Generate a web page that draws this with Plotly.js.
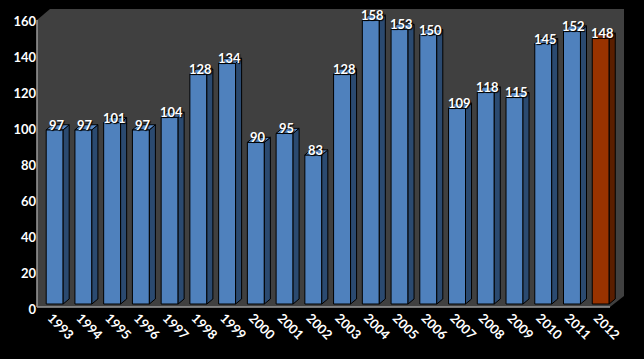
<!DOCTYPE html>
<html>
<head>
<meta charset="utf-8">
<script src="https://cdn.plot.ly/plotly-3.0.1.min.js"></script>
<style>
  html, body { margin: 0; padding: 0; background: #000; }
  #chart { width: 644px; height: 359px; }
</style>
</head>
<body>
<div id="chart"></div>
<script>
// ---- data ----
const years = ['1993','1994','1995','1996','1997','1998','1999','2000','2001','2002',
               '2003','2004','2005','2006','2007','2008','2009','2010','2011','2012'];
const values = [97, 97, 101, 97, 104, 128, 134, 90, 95, 83,
                128, 158, 153, 150, 109, 118, 115, 145, 152, 148];
const highlightYear = '2012';
const yTickVals = [0, 20, 40, 60, 80, 100, 120, 140, 160];

// ---- style ----
const BLUE = {front: '#4f81bd', side: '#2b4a70', top: '#5a8bc9'};
const RUST = {front: '#993300', side: '#5a1e00', top: '#a83a08'};
const barW = 0.59;    // bar width in category units
const dX = 0.21;      // depth offset (x, category units)
const dY = 2.8;       // depth offset (y, value units)

const idx = years.map((_, i) => i);
const isHi = years.map(y => y === highlightYear);

function faces(which, hi) {
  const xs = [], ys = [];
  idx.forEach(i => {
    if (isHi[i] !== hi) return;
    const v = values[i], l = i - barW / 2, r = i + barW / 2;
    if (which === 'side') {
      xs.push(r, r, r + dX, r + dX, r, null);
      ys.push(0, v, v + dY, dY, 0, null);
    } else {
      xs.push(l, r, r + dX, l + dX, l, null);
      ys.push(v, v, v + dY, v + dY, v, null);
    }
  });
  return {x: xs, y: ys};
}

function faceTrace(which, hi) {
  const f = faces(which, hi);
  const c = hi ? RUST : BLUE;
  return {
    type: 'scatter', mode: 'lines', x: f.x, y: f.y,
    xaxis: 'x2', yaxis: 'y2', fill: 'toself',
    fillcolor: c[which], line: {color: '#000', width: 1},
    hoverinfo: 'skip', showlegend: false
  };
}

const traces = [
  // base (front plane) subplot carrier
  {type: 'scatter', mode: 'none', x: idx, y: values, xaxis: 'x', yaxis: 'y',
   hoverinfo: 'skip', showlegend: false},
  {
    type: 'bar', x: idx, y: values, xaxis: 'x2', yaxis: 'y2', width: barW,
    marker: {color: isHi.map(h => h ? RUST.front : BLUE.front),
             line: {color: '#000', width: 1}},
    hoverinfo: 'x+y', showlegend: false
  },
  faceTrace('side', false), faceTrace('top', false),
  faceTrace('side', true), faceTrace('top', true)
];

const annotations = idx.map(i => ({
  x: i, y: values[i], xref: 'x2', yref: 'y2',
  text: String(values[i]), showarrow: false,
  xanchor: 'center', yanchor: 'middle', xshift: 2, yshift: 5,
  font: {family: 'Lato, "Open Sans", sans-serif', size: 13, color: '#fff',
         weight: 'bold', shadow: '1px 1px 1px #000'}
}));

// geometry of the 3D box (paper coords)
const W = 587, H = 298;
const shapes = [
  {type: 'path', xref: 'paper', yref: 'paper', layer: 'below',
   path: `M 0 1 L ${13 / W} 1 L 0 ${287 / H} Z`, fillcolor: '#000', line: {width: 0}},
  {type: 'path', xref: 'paper', yref: 'paper', layer: 'below',
   path: `M 1 0 L 1 ${11 / H} L ${573 / W} 0 Z`, fillcolor: '#000', line: {width: 0}},
  {type: 'line', xref: 'paper', yref: 'paper', x0: 0, x1: 0, y0: 0, y1: 287 / H,
   line: {color: '#9a9a9a', width: 1.5}},
  {type: 'line', xref: 'paper', yref: 'paper', x0: 0, x1: 573 / W, y0: 0, y1: 0,
   line: {color: '#9a9a9a', width: 1.5}}
];

const font = {family: 'Lato, "Open Sans", sans-serif', size: 13, color: '#fff', weight: 'bold'};
const pxX = 28.74, pxY = 1.796;
const xMax = -0.5 + W / pxX, yMax = H / pxY;
const sx = 3.3 / pxX, sy = 3 / pxY;

const layout = {
  width: 644, height: 359,
  margin: {l: 37, r: 20, t: 9, b: 52, pad: 0},
  paper_bgcolor: '#000', plot_bgcolor: '#404040',
  font: font,
  showlegend: false,
  bargap: 0,
  xaxis: {
    range: [-0.5, xMax], tickvals: idx, ticktext: years, tickangle: 45,
    showgrid: false, zeroline: false, showline: false, ticks: '',
    tickfont: font, fixedrange: true
  },
  yaxis: {
    range: [0, yMax], tickvals: yTickVals, ticktext: yTickVals.map(String),
    showgrid: false, zeroline: false, showline: false, ticks: '',
    tickfont: font, fixedrange: true, ticklabelshift: 2
  },
  xaxis2: {overlaying: 'x', anchor: 'y2', range: [-0.5 - sx, xMax - sx], visible: false},
  yaxis2: {overlaying: 'y', anchor: 'x2', range: [-sy, yMax - sy], visible: false},
  shapes: shapes,
  annotations: annotations
};

Plotly.newPlot('chart', traces, layout, {displayModeBar: false, staticPlot: true});
</script>
</body>
</html>
